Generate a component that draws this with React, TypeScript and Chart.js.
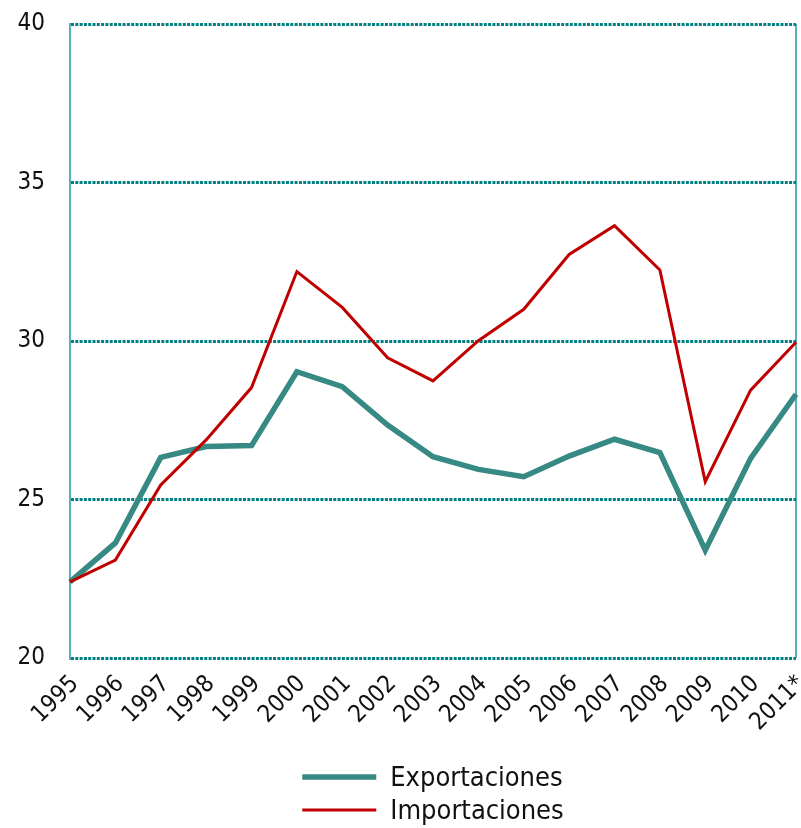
import React, { useEffect, useRef } from "react";
import { Chart, registerables } from "chart.js";

Chart.register(...registerables);

const years = ["1995","1996","1997","1998","1999","2000","2001","2002","2003","2004","2005","2006","2007","2008","2009","2010","2011*"];
const exportaciones = [22.4, 23.63, 26.33, 26.67, 26.7, 29.03, 28.56, 27.35, 26.35, 25.95, 25.72, 26.37, 26.9, 26.48, 23.4, 26.3, 28.32];
const importaciones = [22.4, 23.09, 25.46, 26.88, 28.53, 32.19, 31.06, 29.47, 28.74, 30.01, 31.0, 32.73, 33.64, 32.24, 25.56, 28.45, 29.96];
const yTicks = [20, 25, 30, 35, 40];

const FONT = "'DejaVu Sans Condensed', 'DejaVu Sans', sans-serif";

const legendPlugin = {
  id: "customLegend",
  afterDraw(chart: any) {
    const { ctx, chartArea } = chart;
    const sets = chart.data.datasets;
    ctx.save();
    ctx.font = `27px ${FONT}`;
    const lineLen = 74;
    const gap = 14;
    let maxW = 0;
    sets.forEach((d: any) => { maxW = Math.max(maxW, ctx.measureText(d.label).width); });
    const total = lineLen + gap + maxW;
    const cx = (chartArea.left + chartArea.right) / 2;
    const x0 = cx - total / 2;
    const rowY = [777, 810];
    sets.forEach((d: any, i: number) => {
      const y = rowY[i];
      ctx.strokeStyle = d.borderColor;
      ctx.lineWidth = d.borderWidth;
      ctx.beginPath();
      ctx.moveTo(x0, y);
      ctx.lineTo(x0 + lineLen, y);
      ctx.stroke();
      ctx.fillStyle = "#111";
      ctx.textBaseline = "middle";
      ctx.textAlign = "left";
      ctx.fillText(d.label, x0 + lineLen + gap, y + 2);
    });
    ctx.restore();
  },
};

export default function App() {
  const ref = useRef<HTMLCanvasElement | null>(null);
  useEffect(() => {
    if (!ref.current) return;
    const chart = new Chart(ref.current, {
      type: "line",
      data: {
        labels: years,
        datasets: [
          {
            label: "Exportaciones",
            data: exportaciones,
            borderColor: "#378a84",
            borderWidth: 5.5,
            pointRadius: 0,
            tension: 0,
            order: 1,
          },
          {
            label: "Importaciones",
            data: importaciones,
            borderColor: "#c00000",
            borderWidth: 3,
            pointRadius: 0,
            tension: 0,
            order: 0,
          },
        ],
      },
      options: {
        animation: false,
        responsive: false,
        maintainAspectRatio: false,
        layout: { padding: { top: 24, right: 5, left: 0, bottom: 0 } },
        plugins: { legend: { display: false }, tooltip: { enabled: false } },
        scales: {
          x: {
            offset: false,
            grid: {
              drawTicks: false,
              lineWidth: 2,
              color: (c: any) => (c.index === years.length - 1 ? "#5aaebb" : "rgba(0,0,0,0)"),
            },
            border: { display: false },
            ticks: {
              autoSkip: false,
              maxRotation: 45,
              minRotation: 45,
              padding: 12,
              labelOffset: 5,
              color: "#111",
              font: { family: FONT, size: 24 },
            },
            afterFit: (s: any) => { s.height = 170; s.paddingLeft = 0; s.paddingRight = 0; },
          },
          y: {
            min: 20,
            max: 40,
            afterBuildTicks: (s: any) => { s.ticks = yTicks.map((v) => ({ value: v })); },
            grid: {
              drawTicks: false,
              color: "#008080",
              lineWidth: 3,
            },
            border: { display: true, color: "#5aaebb", width: 2, dash: [3, 1.3] },
            ticks: {
              padding: 25,
              color: "#111",
              font: { family: FONT, size: 24 },
            },
            afterFit: (s: any) => { s.width = 70; s.paddingTop = 0; s.paddingBottom = 0; },
          },
        },
      },
      plugins: [legendPlugin],
    });
    return () => chart.destroy();
  }, []);
  return (
    <div style={{ position: "fixed", left: 0, top: 0, width: 801, height: 828, background: "#fff" }}>
      <canvas ref={ref} width={801} height={828} style={{ width: 801, height: 828 }} />
    </div>
  );
}
